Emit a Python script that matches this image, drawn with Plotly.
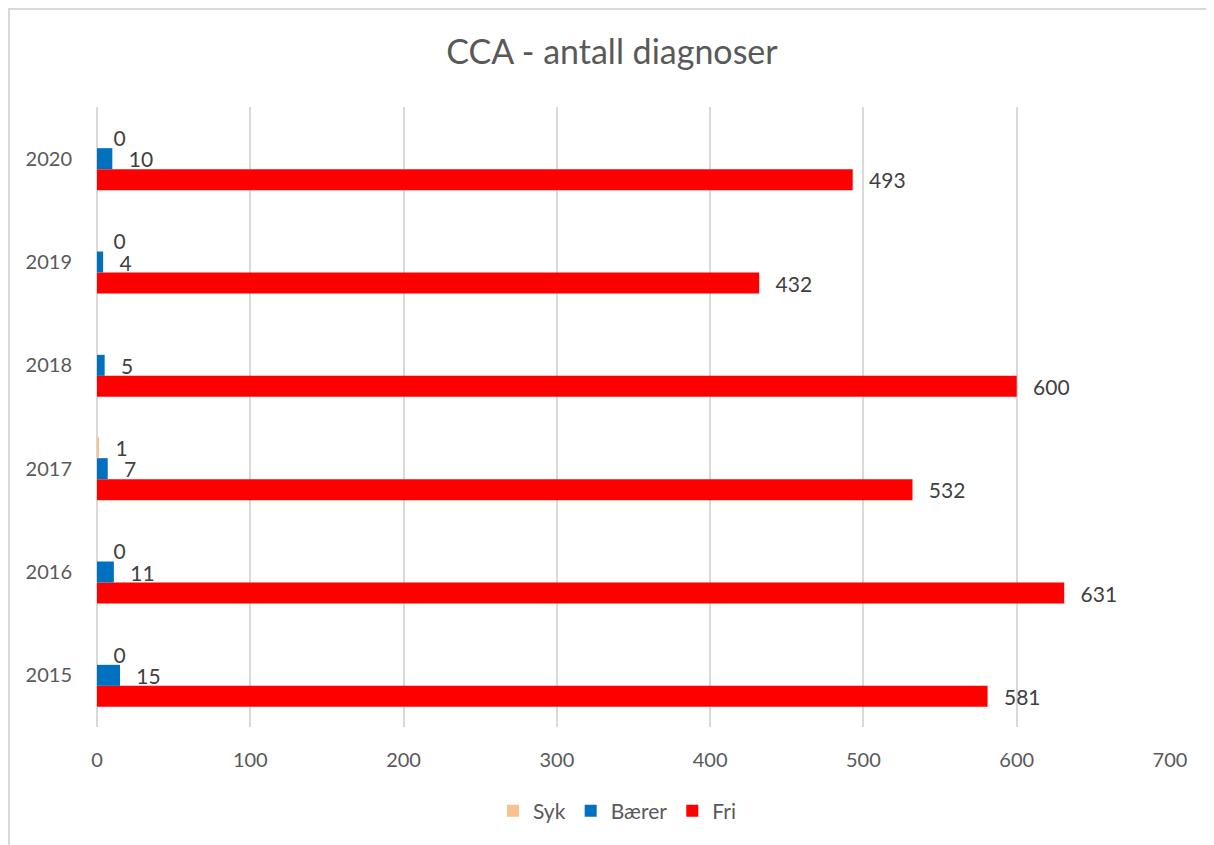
import plotly.graph_objects as go

years = ["2015", "2016", "2017", "2018", "2019", "2020"]
syk = [0, 0, 1, None, 0, 0]
baerer = [15, 11, 7, 5, 4, 10]
fri = [581, 631, 532, 600, 432, 493]
x_ticks = [0, 100, 200, 300, 400, 500, 600, 700]

# page has an 8px body margin, so the figure is drawn 8px smaller
W, H = 1206, 837
ML, MR, MT, MB = 89, 44, 99, 118
FONT = "Lato, 'Open Sans', sans-serif"
GRID = "#d9d9d9"

fig = go.Figure()
series = [("Fri", fri, "#FF0000", 3), ("Bærer", baerer, "#0070C0", 2), ("Syk", syk, "#F8BF8F", 1)]
for name, vals, color, rank in series:
    fig.add_trace(go.Bar(
        y=years, x=vals, name=name, orientation="h",
        marker=dict(color=color, line=dict(width=0)),
        text=[None if v is None else f"\u00a0\u00a0\u2009{v}" for v in vals],
        textposition="outside", cliponaxis=False, constraintext="none",
        textfont=dict(family=FONT, size=21, color="#404040"),
        legendrank=rank, hoverinfo="x+name",
    ))

pw = W - ML - MR
ph = H - MT - MB
fig.add_shape(type="rect", xref="paper", yref="paper",
              x0=(1 - ML) / pw, x1=(W + 20 - ML) / pw,
              y0=-(H + 20 - MT - ph) / ph, y1=1 + (MT - 1) / ph,
              line=dict(color=GRID, width=2), fillcolor="rgba(0,0,0,0)", layer="below")

fig.update_layout(
    width=W, height=H,
    margin=dict(l=ML, r=MR, t=MT, b=MB),
    paper_bgcolor="white", plot_bgcolor="white",
    barmode="group", bargap=0.39, bargroupgap=0,
    title=dict(text="CCA - antall diagnoser", x=604 / W, xanchor="center",
               y=1 - 44 / H, yanchor="middle", yref="container",
               font=dict(family=FONT, size=34, color="#595959")),
    legend=dict(orientation="h", x=(609 - ML) / pw, xanchor="center", y=-(803 - MT - ph) / ph,
                yanchor="middle", font=dict(family=FONT, size=21, color="#595959"),
                itemwidth=30, tracegroupgap=0),
    showlegend=True,
    font=dict(family=FONT),
)
fig.update_xaxes(range=[0, 700], tickvals=x_ticks, showgrid=True, gridcolor=GRID, gridwidth=2,
                 zeroline=True, zerolinecolor=GRID, zerolinewidth=2, showline=False,
                 ticks="outside", ticklen=15, tickcolor="rgba(0,0,0,0)",
                 tickfont=dict(family=FONT, size=20, color="#595959"), fixedrange=True)
fig.update_yaxes(type="category", categoryorder="array", categoryarray=years,
                 showgrid=False, showline=False, zeroline=False,
                 ticks="outside", ticklen=20, tickcolor="rgba(0,0,0,0)",
                 tickfont=dict(family=FONT, size=20, color="#595959"), fixedrange=True)

fig.write_html("out.html")
